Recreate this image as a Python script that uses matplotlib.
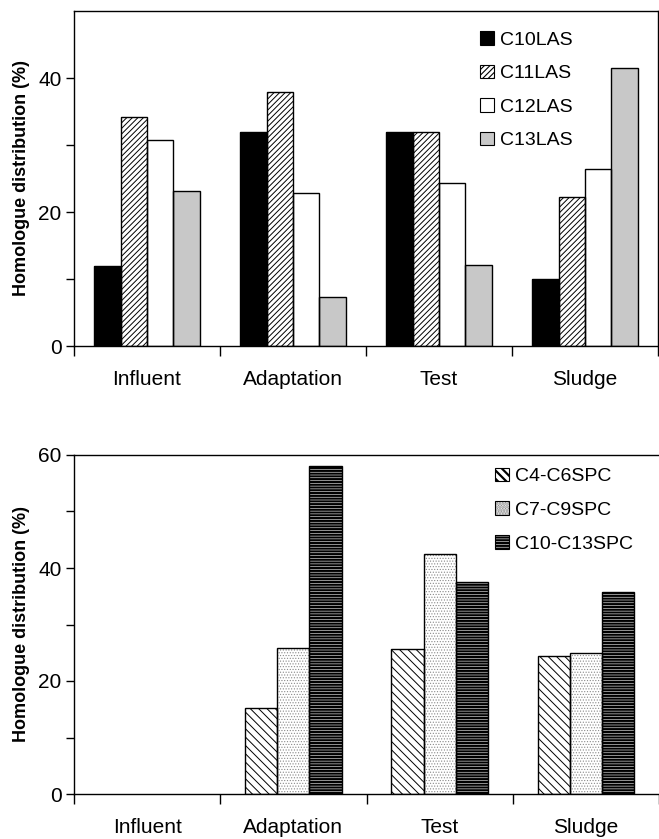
import matplotlib
matplotlib.use("Agg")
import matplotlib.pyplot as plt
from matplotlib.patches import Patch
import numpy as np

plt.rcParams['font.family'] = ['Liberation Sans', 'DejaVu Sans']

categories = ["Influent", "Adaptation", "Test", "Sludge"]

las_labels = ["C10LAS", "C11LAS", "C12LAS", "C13LAS"]
c10las = [12.0, 31.9, 32.0, 10.0]
c11las = [34.2, 37.9, 32.0, 22.2]
c12las = [30.7, 22.9, 24.4, 26.4]
c13las = [23.1, 7.3, 12.1, 41.5]

spc_labels = ["C4-C6SPC", "C7-C9SPC", "C10-C13SPC"]
c4c6spc = [0.0, 15.3, 25.6, 24.5]
c7c9spc = [0.0, 25.9, 42.5, 25.0]
c10c13spc = [0.0, 58.0, 37.5, 35.8]

W, H = 659, 839
fig = plt.figure(figsize=(W / 100, H / 100), dpi=100)


def px_axes(l, t, r, b):
    return fig.add_axes([l / W, 1 - b / H, (r - l) / W, (b - t) / H])


def hatched_bars(ax, x, vals, width, facecolor, hatch, hcolor, hlw, label):
    plt.rcParams['hatch.linewidth'] = hlw
    plt.rcParams['hatch.color'] = hcolor
    bars = ax.bar(x, vals, width, color=facecolor, hatch=hatch,
                  edgecolor=hcolor, linewidth=0, zorder=2)
    for b in bars:
        if hasattr(b, "set_hatch_linewidth"):
            b.set_hatch_linewidth(hlw)
    ax.bar(x, vals, width, color="none", edgecolor="black", linewidth=1.0, zorder=3)
    p_fill = Patch(facecolor=facecolor, edgecolor=hcolor, hatch=hatch, linewidth=0)
    if hasattr(p_fill, "set_hatch_linewidth"):
        p_fill.set_hatch_linewidth(hlw)
    p_edge = Patch(facecolor="none", edgecolor="black", linewidth=0.8)
    return (p_fill, p_edge)


def style_axes(ax, ymax, majors, minors, right_spine):
    ax.set_xlim(0, 4)
    ax.set_ylim(0, ymax)
    ax.spines['right'].set_visible(right_spine)
    for s in ax.spines.values():
        s.set_linewidth(1.0)
    ax.set_xticks(np.arange(4) + 0.5)
    ax.set_xticklabels(categories, fontsize=15)
    ax.set_xticks(np.arange(5), minor=True)
    ax.tick_params(axis='x', which='major', length=0, pad=17.5)
    ax.tick_params(axis='x', which='minor', length=7, width=1.0, direction='out')
    ax.set_yticks(majors)
    ax.set_yticklabels([str(m) for m in majors], fontsize=15)
    ax.set_yticks(minors, minor=True)
    ax.tick_params(axis='y', which='both', length=6, width=1.0, direction='out', pad=3)
    ax.set_ylabel("Homologue distribution (%)", fontsize=13, fontweight='bold', labelpad=6)


legend_kw = dict(loc='upper left', frameon=False, fontsize=14, handlelength=0.7,
                 handleheight=0.7, handletextpad=0.3, labelspacing=0.82,
                 borderpad=0, borderaxespad=0)

# ---- top panel ----
ax1 = px_axes(74, 11, 658, 346)
x = np.arange(4) + 0.5
w1 = 0.18
series_top = [c10las, c11las, c12las, c13las]
styles_top = [("black", "", "black", 0.8),
              ("white", "//////", "black", 0.7),
              ("white", "", "black", 0.8),
              ("#c8c8c8", "", "black", 0.8)]
handles1 = []
for i, (vals, st) in enumerate(zip(series_top, styles_top)):
    xi = x + (i - 1.5) * w1
    handles1.append(hatched_bars(ax1, xi, vals, w1, st[0], st[1], st[2], st[3], las_labels[i]))
style_axes(ax1, 50, [0, 20, 40], [10, 30], True)
ax1.legend(handles1, las_labels, bbox_to_anchor=(0.696, 0.94), **legend_kw)

# ---- bottom panel ----
ax2 = px_axes(74, 455, 659, 794)
w2 = 0.22
series_bot = [c4c6spc, c7c9spc, c10c13spc]
styles_bot = [("white", "\\\\\\\\", "black", 0.7),
              ("white", "......", "#8a8a8a", 0.5),
              ("white", "------", "black", 1.6)]
handles2 = []
for i, (vals, st) in enumerate(zip(series_bot, styles_bot)):
    xi = x + (i - 1) * w2
    v = np.array(vals)
    mask = v > 0
    handles2.append(hatched_bars(ax2, xi[mask], v[mask], w2, st[0], st[1], st[2], st[3], spc_labels[i]))
style_axes(ax2, 60, [0, 20, 40, 60], [10, 30, 50], False)
ax2.legend(handles2, spc_labels, bbox_to_anchor=(0.72, 0.962), **legend_kw)

fig.savefig("out.png", dpi=100)
